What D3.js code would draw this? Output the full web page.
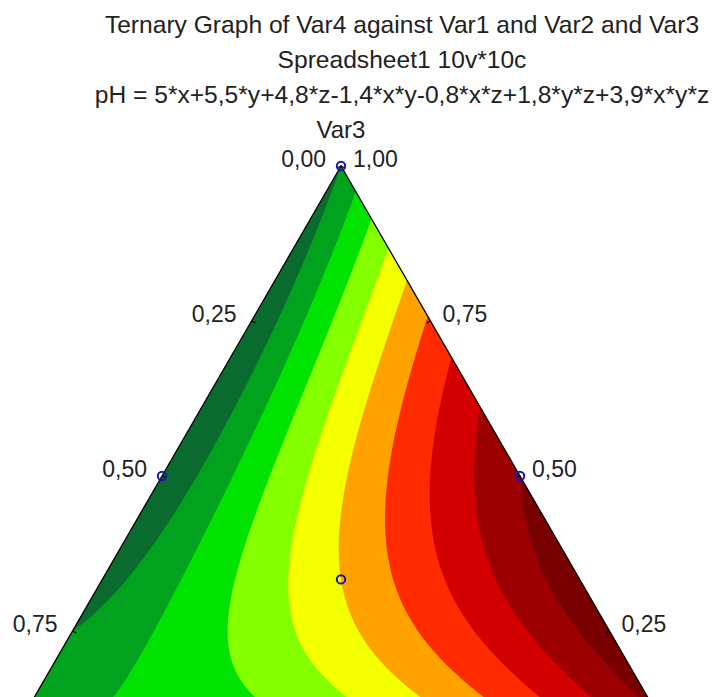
<!DOCTYPE html>
<html>
<head>
<meta charset="utf-8">
<script src="https://cdn.jsdelivr.net/npm/d3@7"></script>
<style>
  html, body { margin: 0; padding: 0; background: #ffffff; }
  svg { display: block; }
  text { font-family: "Liberation Sans", Arial, sans-serif; fill: #222; }
</style>
</head>
<body>
<svg id="chart" width="716" height="697"></svg>
<script>
// ---------------- data ----------------
const titleLines = [
  "Ternary Graph of Var4 against Var1 and Var2 and Var3",
  "Spreadsheet1 10v*10c",
  "pH = 5*x+5,5*y+4,8*z-1,4*x*y-0,8*x*z+1,8*y*z+3,9*x*y*z"
];
const topAxisTitle = "Var3";
// fitted model terms (x = Var1, y = Var2, z = Var3) and their coefficients
const termNames = ["x", "y", "z", "x*y", "x*z", "y*z", "x*y*z"];
const coefficients = [5, 5.5, 4.8, -1.4, -0.8, 1.8, 3.9];
// contour levels and band colours (band i lies between levels[i-1] and levels[i])
const levels = [4.8, 4.9, 5.0, 5.1, 5.2, 5.3, 5.4, 5.5, 5.6];
const bandColors = ["#0a6b2e", "#00a21e", "#00e200", "#84ff00", "#f4ff00",
                    "#ffa200", "#ff2a00", "#d40000", "#9c0000", "#780000"];
// observed design points (Var1, Var2, Var3)
const pointsVar1 = [0, 0.5, 0, 1/3, 1, 0, 0.5];
const pointsVar2 = [0, 0, 0.5, 1/3, 0, 1, 0.5];
const pointsVar3 = [1, 0.5, 0.5, 1/3, 0, 0, 0];
// axis ticks shown in view
const leftTicks = [0, 0.25, 0.5, 0.75];     // Var1 along left edge
const rightTicks = [1, 0.75, 0.5, 0.25];    // Var3 along right edge

// ---------------- geometry ----------------
const svg = d3.select("#chart");
const apexX = 341, apexY = 166, side = 716;
const height = side * Math.sqrt(3) / 2;        // 620
const baseY = apexY + height;
// z (Var3) -> vertical pixel; (y - x) -> horizontal pixel
const zScale = d3.scaleLinear().domain([0, 1]).range([baseY, apexY]);
const dScale = d3.scaleLinear().domain([-1, 1]).range([apexX - side / 2, apexX + side / 2]);
const proj = (x, y, z) => [dScale(y - x), zScale(z)];
const unproj = (px, py) => {
  const z = zScale.invert(py);
  const d = dScale.invert(px);
  const s = 1 - z;
  return [(s - d) / 2, (s + d) / 2, z];
};
const model = (x, y, z) => {
  const t = [x, y, z, x * y, x * z, y * z, x * y * z];
  return d3.sum(t, (v, i) => v * coefficients[i]);
};
const fmt = d3.formatLocale({decimal: ",", thousands: ".", grouping: [3], currency: ["", ""]}).format(".2f");

// ---------------- titles ----------------
const titleX = 402;
svg.selectAll("text.title").data(titleLines).join("text")
  .attr("class", "title")
  .attr("x", titleX).attr("y", (d, i) => 33 + i * 35)
  .attr("text-anchor", "middle").attr("font-size", 24.6)
  .text(d => d);
svg.append("text").attr("x", apexX).attr("y", 138)
  .attr("text-anchor", "middle").attr("font-size", 24).text(topAxisTitle);

// ---------------- contour surface ----------------
const A = proj(0, 0, 1), BL = proj(1, 0, 0), BR = proj(0, 1, 0);
const triPath = `M${A}L${BL}L${BR}Z`;
svg.append("clipPath").attr("id", "tri").append("path").attr("d", triPath);

const step = 2;
const gx0 = BL[0] - 6, gy0 = apexY - 6;
const n = Math.ceil((BR[0] - BL[0] + 12) / step) + 1;
const m = Math.ceil((height + 12) / step) + 1;
const values = new Array(n * m);
for (let j = 0; j < m; j++) {
  for (let i = 0; i < n; i++) {
    const [x, y, z] = unproj(gx0 + i * step, gy0 + j * step);
    values[j * n + i] = model(x, y, z);
  }
}
const contours = d3.contours().size([n, m]).thresholds(levels)(values);
const path = d3.geoPath(d3.geoIdentity().scale(step).translate([gx0 - 0.5 * step, gy0 - 0.5 * step]));

const g = svg.append("g").attr("clip-path", "url(#tri)");
g.append("path").attr("d", triPath).attr("fill", bandColors[0]);
g.selectAll("path.band").data(contours).join("path")
  .attr("class", "band")
  .attr("d", path)
  .attr("fill", (d, i) => bandColors[i + 1]);

// ---------------- triangle frame & ticks ----------------
svg.append("path").attr("d", triPath).attr("fill", "none")
  .attr("stroke", "#000").attr("stroke-width", 1.3);

leftTicks.forEach(v => {
  const [px, py] = proj(v, 0, 1 - v);
  svg.append("line").attr("x1", px).attr("y1", py).attr("x2", px + 4).attr("y2", py + 2)
    .attr("stroke", "#000").attr("stroke-width", 1.2);
  svg.append("text").attr("x", px - 15).attr("y", py + 1)
    .attr("text-anchor", "end").attr("font-size", 23).text(fmt(v));
});
rightTicks.forEach(v => {
  const [px, py] = proj(0, 1 - v, v);
  svg.append("line").attr("x1", px).attr("y1", py).attr("x2", px - 4).attr("y2", py + 2)
    .attr("stroke", "#000").attr("stroke-width", 1.2);
  svg.append("text").attr("x", px + 12).attr("y", py + 1)
    .attr("text-anchor", "start").attr("font-size", 23).text(fmt(v));
});

// ---------------- design points ----------------
const pts = pointsVar1.map((x, i) => proj(x, pointsVar2[i], pointsVar3[i]));
svg.selectAll("circle.pt").data(pts).join("circle")
  .attr("class", "pt")
  .attr("cx", d => d[0]).attr("cy", d => d[1]).attr("r", 4.2)
  .attr("fill", "none").attr("stroke", "#1414b4").attr("stroke-width", 2);
</script>
</body>
</html>
